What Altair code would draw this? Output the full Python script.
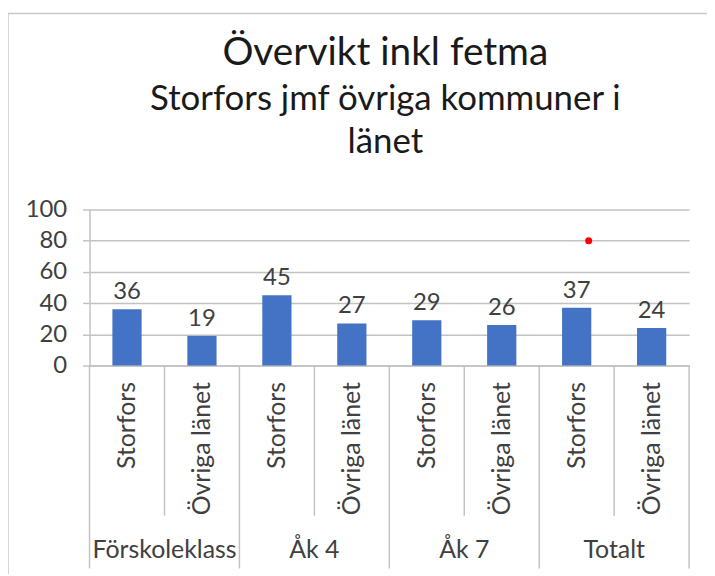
import altair as alt
import pandas as pd

# ---- data ----
groups = ["Förskoleklass", "Åk 4", "Åk 7", "Totalt"]
series = ["Storfors", "Övriga länet"]
storfors = [36, 45, 29, 37]
ovriga = [19, 27, 26, 24]
y_ticks = [0, 20, 40, 60, 80, 100]
marker_group = "Totalt"
marker_value = 80

title_text = "Övervikt inkl fetma"
subtitle_lines = ["Storfors jmf övriga kommuner i", "länet"]

rows = []
for g, s_val, o_val in zip(groups, storfors, ovriga):
    rows.append({"group": g, "serie": series[0], "key": g + "|" + series[0], "value": s_val})
    rows.append({"group": g, "serie": series[1], "key": g + "|" + series[1], "value": o_val})
df = pd.DataFrame(rows)
order = list(df["key"])

W, H = 603, 157
FONT = "Lato"
GRID = "#c2c2c2"
TXT = "#404040"

xscale = alt.Scale(domain=order, paddingInner=0, paddingOuter=0)
yscale = alt.Scale(domain=[0, 100])

x_axis = alt.Axis(
    labelExpr="substring(datum.label, indexof(datum.label, '|') + 1)",
    labelAngle=-90, labelAlign="right", labelBaseline="middle",
    labelFont=FONT, labelFontSize=25, labelColor=TXT, labelPadding=16,
    labelOverlap=False, labelLimit=400,
    ticks=False, domain=True, domainColor=GRID, domainWidth=1.5,
    grid=False, title=None,
)
y_axis = alt.Axis(
    values=y_ticks, labelFont=FONT, labelFontSize=24,
    labelColor=TXT, labelPadding=16, labelOverlap=False,
    tickSize=7, tickColor=GRID, tickWidth=1.5,
    domain=True, domainColor=GRID, domainWidth=1.5,
    grid=True, gridColor=GRID, gridWidth=1.5, title=None,
)


def X(band=0.5):
    return alt.X("key:N", sort=order, scale=xscale, bandPosition=band, axis=x_axis, title=None)


def Y():
    return alt.Y("value:Q", scale=yscale, axis=y_axis, title=None)


base = alt.Chart(df)

bars = base.mark_bar(color="#4472C4", width=alt.RelativeBandSize(0.39)).encode(
    x=X(0.5), y=Y(),
)

labels = base.mark_text(font=FONT, fontSize=24, color=TXT, baseline="alphabetic", dy=-10).encode(
    x=X(0.5), y=Y(), text=alt.Text("value:Q"),
)

inner_rules = base.transform_filter(alt.datum.serie == series[1]).mark_rule(
    color=GRID, strokeWidth=1.5
).encode(x=X(0.0), y=alt.value(H), y2=alt.value(H + 151))

group_rules = base.transform_filter(alt.datum.serie == series[0]).mark_rule(
    color=GRID, strokeWidth=1.5
).encode(x=X(0.0), y=alt.value(H), y2=alt.value(H + 204))

end_rule = base.transform_filter(alt.datum.key == order[-1]).mark_rule(
    color=GRID, strokeWidth=1.5
).encode(x=X(1.0), y=alt.value(H), y2=alt.value(H + 204))

group_labels = base.transform_filter(alt.datum.serie == series[0]).mark_text(
    font=FONT, fontSize=25, color=TXT, baseline="alphabetic"
).encode(x=X(1.0), y=alt.value(H + 194), text="group:N")

marker_df = pd.DataFrame({"key": [marker_group + "|" + series[0]], "value": [marker_value]})
marker = alt.Chart(marker_df).mark_circle(color="#ff0000", size=50, opacity=1).encode(
    x=X(0.66), y=Y()
)

# outer chart-area frame (left and top edge)
frame_left = alt.Chart(marker_df).mark_rule(color="#c8c8c8", strokeWidth=1.5).encode(
    x=alt.value(-82), y=alt.value(-197), y2=alt.value(H + 210)
)
frame_top = alt.Chart(marker_df).mark_rule(color="#c8c8c8", strokeWidth=1.5).encode(
    x=alt.value(-82), x2=alt.value(W + 30), y=alt.value(-197)
)

chart = alt.layer(
    bars, labels, inner_rules, group_rules, end_rule, group_labels, marker, frame_left, frame_top
).properties(
    width=W, height=H,
    title=alt.TitleParams(
        text=title_text, subtitle=subtitle_lines, anchor="middle", dx=-4,
        font=FONT, fontSize=39, fontWeight="normal", color="#1a1a1a",
        subtitleFont=FONT, subtitleFontSize=35, subtitleColor="#1a1a1a",
        subtitleLineHeight=43, subtitlePadding=10, offset=-148,
    ),
    autosize=alt.AutoSizeParams(type="none"),
    padding={"left": 82, "top": 201, "right": 18, "bottom": 208},
).configure_view(stroke=None)

chart.save("out.html", embed_options={"renderer": "svg", "actions": False})
